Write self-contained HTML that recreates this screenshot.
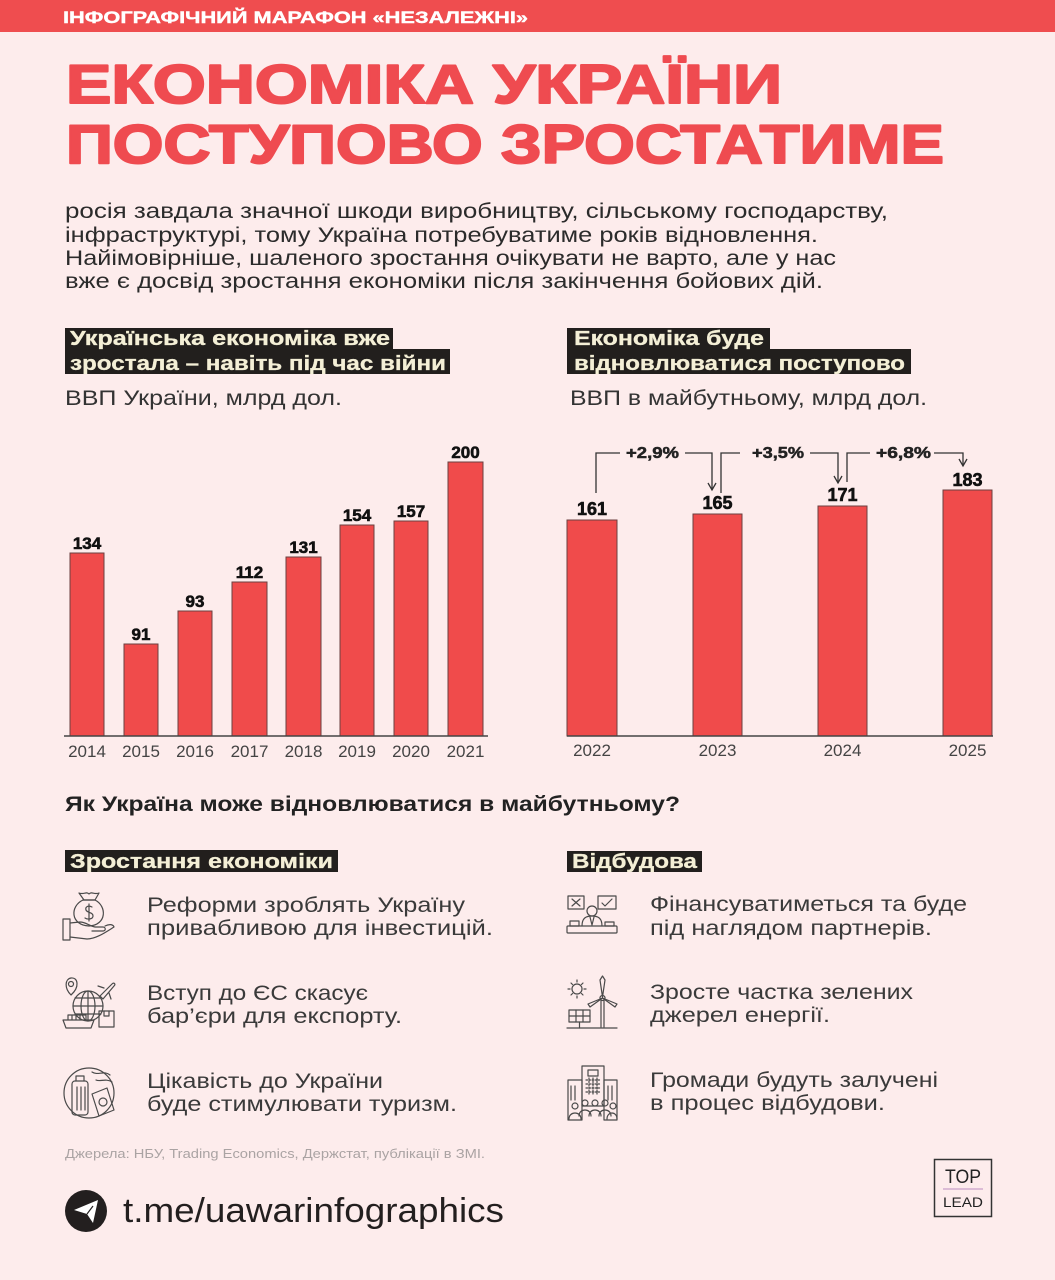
<!DOCTYPE html>
<html>
<head>
<meta charset="utf-8">
<style>
  html,body{margin:0;padding:0;background:#fdecec;}
  svg{display:block;}
  text{font-family:"Liberation Sans","DejaVu Sans",sans-serif;}
</style>
</head>
<body>
<svg width="1055" height="1280" viewBox="0 0 1055 1280" xmlns="http://www.w3.org/2000/svg">
  <rect x="0" y="0" width="1055" height="1280" fill="#fdecec"/>

  <!-- Header bar -->
  <rect x="0" y="0" width="1055" height="32" fill="#ef4d4f"/>
  <text x="63" y="23" font-size="17" font-weight="bold" fill="#ffffff" stroke="#ffffff" stroke-width="0.4" textLength="465" lengthAdjust="spacingAndGlyphs">ІНФОГРАФІЧНИЙ МАРАФОН «НЕЗАЛЕЖНІ»</text>

  <!-- Title -->
  <g fill="#ef4b50" stroke="#ef4b50" stroke-width="2" stroke-linejoin="round">
    <text x="66" y="103" font-size="55" font-weight="bold" textLength="716" lengthAdjust="spacingAndGlyphs">ЕКОНОМІКА УКРАЇНИ</text>
    <text x="66" y="163" font-size="55" font-weight="bold" textLength="878" lengthAdjust="spacingAndGlyphs">ПОСТУПОВО ЗРОСТАТИМЕ</text>
  </g>

  <!-- Body -->
  <g font-size="21" fill="#2b2b2b">
    <text x="65" y="218" textLength="823" lengthAdjust="spacingAndGlyphs">росія завдала значної шкоди виробництву, сільському господарству,</text>
    <text x="65" y="242" textLength="753" lengthAdjust="spacingAndGlyphs">інфраструктурі, тому Україна потребуватиме років відновлення.</text>
    <text x="65" y="265" textLength="771" lengthAdjust="spacingAndGlyphs">Найімовірніше, шаленого зростання очікувати не варто, але у нас</text>
    <text x="65" y="288" textLength="758" lengthAdjust="spacingAndGlyphs">вже є досвід зростання економіки після закінчення бойових дій.</text>
  </g>

  <!-- Subheadings left -->
  <rect x="65" y="328" width="328" height="21" fill="#221f1d"/>
  <rect x="65" y="349" width="385" height="25" fill="#221f1d"/>
  <g font-size="20" font-weight="bold" fill="#f4efd6" stroke="#f4efd6" stroke-width="0.3">
    <text x="70" y="345" textLength="320" lengthAdjust="spacingAndGlyphs">Українська економіка вже</text>
    <text x="70" y="370" textLength="376" lengthAdjust="spacingAndGlyphs">зростала – навіть під час війни</text>
  </g>
  <text x="65" y="405" font-size="21" fill="#333" textLength="277" lengthAdjust="spacingAndGlyphs">ВВП України, млрд дол.</text>

  <!-- Subheadings right -->
  <rect x="567" y="328" width="203" height="21" fill="#221f1d"/>
  <rect x="567" y="349" width="344" height="25" fill="#221f1d"/>
  <g font-size="20" font-weight="bold" fill="#f4efd6" stroke="#f4efd6" stroke-width="0.3">
    <text x="574" y="345" textLength="190" lengthAdjust="spacingAndGlyphs">Економіка буде</text>
    <text x="574" y="370" textLength="331" lengthAdjust="spacingAndGlyphs">відновлюватися поступово</text>
  </g>
  <text x="570" y="405" font-size="21" fill="#333" textLength="357" lengthAdjust="spacingAndGlyphs">ВВП в майбутньому, млрд дол.</text>

  <!-- Left chart -->
  <g fill="#f04b4b" stroke="#6a4040" stroke-width="1">
    <rect x="70" y="553" width="34" height="183"/>
    <rect x="124" y="644" width="34" height="92"/>
    <rect x="178" y="611" width="34" height="125"/>
    <rect x="232" y="582" width="35" height="154"/>
    <rect x="286" y="557" width="35" height="179"/>
    <rect x="340" y="525" width="34" height="211"/>
    <rect x="394" y="521" width="34" height="215"/>
    <rect x="448" y="462" width="35" height="274"/>
  </g>
  <line x1="64" y1="736" x2="488" y2="736" stroke="#444" stroke-width="1.6"/>
  <g font-size="17" font-weight="bold" fill="#111" stroke="#111" stroke-width="0.6" text-anchor="middle">
    <text x="87" y="549">134</text>
    <text x="141" y="640">91</text>
    <text x="195" y="607">93</text>
    <text x="249.5" y="578">112</text>
    <text x="303.5" y="553">131</text>
    <text x="357" y="521">154</text>
    <text x="411" y="517">157</text>
    <text x="465.5" y="458">200</text>
  </g>
  <g font-size="17" fill="#444" text-anchor="middle">
    <text x="87" y="757">2014</text>
    <text x="141" y="757">2015</text>
    <text x="195" y="757">2016</text>
    <text x="249.5" y="757">2017</text>
    <text x="303.5" y="757">2018</text>
    <text x="357" y="757">2019</text>
    <text x="411" y="757">2020</text>
    <text x="465.5" y="757">2021</text>
  </g>

  <!-- Right chart -->
  <g fill="#f04b4b" stroke="#6a4040" stroke-width="1">
    <rect x="567" y="520" width="50" height="216"/>
    <rect x="693" y="514" width="49" height="222"/>
    <rect x="818" y="506" width="49" height="230"/>
    <rect x="943" y="490" width="49" height="246"/>
  </g>
  <line x1="567" y1="736" x2="993" y2="736" stroke="#444" stroke-width="1.6"/>
  <g font-size="18" font-weight="bold" fill="#111" stroke="#111" stroke-width="0.6" text-anchor="middle">
    <text x="592" y="515">161</text>
    <text x="717.5" y="509">165</text>
    <text x="842.5" y="501">171</text>
    <text x="967.5" y="486">183</text>
  </g>
  <g font-size="17" fill="#444" text-anchor="middle">
    <text x="592" y="756">2022</text>
    <text x="717.5" y="756">2023</text>
    <text x="842.5" y="756">2024</text>
    <text x="967.5" y="756">2025</text>
  </g>

  <!-- Annotations -->
  <g fill="none" stroke="#333" stroke-width="1.3">
    <polyline points="596,493 596,453 620,453"/>
    <polyline points="685,453 712,453 712,490"/>
    <polyline points="708,483 712,490 716,483"/>
    <polyline points="721,493 721,453 740,453"/>
    <polyline points="810,453 838,453 838,483"/>
    <polyline points="834,476 838,483 842,476"/>
    <polyline points="847,482 847,453 870,453"/>
    <polyline points="934,453 963,453 963,466"/>
    <polyline points="959,459 963,466 967,459"/>
  </g>
  <g font-size="16" font-weight="bold" fill="#222" stroke="#222" stroke-width="0.5">
    <text x="626" y="458" textLength="53" lengthAdjust="spacingAndGlyphs">+2,9%</text>
    <text x="752" y="458" textLength="52" lengthAdjust="spacingAndGlyphs">+3,5%</text>
    <text x="876" y="458" textLength="55" lengthAdjust="spacingAndGlyphs">+6,8%</text>
  </g>

  <!-- Question -->
  <text x="65" y="811" font-size="21" font-weight="bold" fill="#222" textLength="615" lengthAdjust="spacingAndGlyphs">Як Україна може відновлюватися в майбутньому?</text>

  <rect x="65" y="850" width="273" height="22" fill="#221f1d"/>
  <text x="70" y="868" font-size="20" font-weight="bold" fill="#f4efd6" stroke="#f4efd6" stroke-width="0.3" textLength="263" lengthAdjust="spacingAndGlyphs">Зростання економіки</text>
  <rect x="567" y="851" width="135" height="21" fill="#221f1d"/>
  <text x="572" y="868" font-size="20" font-weight="bold" fill="#f4efd6" stroke="#f4efd6" stroke-width="0.3" textLength="125" lengthAdjust="spacingAndGlyphs">Відбудова</text>

  <!-- Items text -->
  <g font-size="21" fill="#3a3a3a">
    <text x="147" y="912" textLength="318" lengthAdjust="spacingAndGlyphs">Реформи зроблять Україну</text>
    <text x="147" y="935" textLength="346" lengthAdjust="spacingAndGlyphs">привабливою для інвестицій.</text>
    <text x="147" y="1000" textLength="221" lengthAdjust="spacingAndGlyphs">Вступ до ЄС скасує</text>
    <text x="147" y="1023" textLength="255" lengthAdjust="spacingAndGlyphs">бар’єри для експорту.</text>
    <text x="147" y="1088" textLength="236" lengthAdjust="spacingAndGlyphs">Цікавість до України</text>
    <text x="147" y="1111" textLength="310" lengthAdjust="spacingAndGlyphs">буде стимулювати туризм.</text>

    <text x="650" y="911" textLength="317" lengthAdjust="spacingAndGlyphs">Фінансуватиметься та буде</text>
    <text x="650" y="935" textLength="282" lengthAdjust="spacingAndGlyphs">під наглядом партнерів.</text>
    <text x="650" y="999" textLength="263" lengthAdjust="spacingAndGlyphs">Зросте частка зелених</text>
    <text x="650" y="1022" textLength="180" lengthAdjust="spacingAndGlyphs">джерел енергії.</text>
    <text x="650" y="1087" textLength="288" lengthAdjust="spacingAndGlyphs">Громади будуть залучені</text>
    <text x="650" y="1110" textLength="235" lengthAdjust="spacingAndGlyphs">в процес відбудови.</text>
  </g>

  <!-- Icons -->
  <g fill="none" stroke="#4a4a4a" stroke-width="1.2" stroke-linejoin="round" stroke-linecap="round">
    <!-- L1 money bag in hand -->
    <path d="M83,900 C70,906 70,925 89,926 C107,925 107,906 95,900 Z"/>
    <path d="M83,900 L95,900 M84,900 L79,893 C84,895 86,891 89,894 C92,891 94,895 99,893 L95,900"/>
    <path d="M92,907 C88,905 85,907 86,910 C87,913 93,912 93,916 C93,919 88,920 85,918 M89,904 L89,921"/>
    <rect x="63" y="919" width="7" height="21"/>
    <path d="M70,923 L80,922 C86,922 89,926 95,927 L103,927 C106,927 106,931 103,931 L92,931"/>
    <path d="M70,937 L87,939 C96,939 106,932 114,927 C113,924 109,924 105,926"/>

    <!-- L2 globe, pin, plane, ship, box -->
    <circle cx="88" cy="1006" r="15"/>
    <ellipse cx="88" cy="1006" rx="7" ry="15"/>
    <path d="M73,1006 L103,1006 M75,998 L101,998 M75,1014 L101,1014 M88,991 L88,1021"/>
    <path d="M71,995 C64,988 65,979 71,978 C78,977 80,987 71,995 Z"/>
    <circle cx="71" cy="984" r="2.5"/>
    <path d="M100,996 L112,984 C114,982 116,984 114,986 L103,999 Z M104,988 L98,986 M109,993 L111,999"/>
    <rect x="99" y="1011" width="15" height="16"/>
    <path d="M104,1011 L104,1016 L109,1016 L109,1011"/>
    <path d="M63,1020 L94,1020 L91,1028 L66,1028 Z M68,1020 L68,1015 L86,1015 L86,1020 M72,1015 L72,1020 M76,1015 L76,1020 M80,1015 L80,1020"/>

    <!-- L3 travel circle -->
    <circle cx="89" cy="1093" r="25"/>
    <rect x="72" y="1081" width="16" height="34" rx="3"/>
    <path d="M76,1081 L76,1076 L84,1076 L84,1081 M77,1087 L77,1110 M81,1087 L81,1110 M85,1087 L85,1110"/>
    <path d="M92,1094 L107,1088 L114,1110 L99,1116 Z"/>
    <circle cx="103" cy="1102" r="4"/>
    <path d="M92,1072 C98,1076 104,1070 110,1075 M96,1080 C100,1082 106,1078 112,1082"/>

    <!-- R1 person at desk with boards -->
    <rect x="568" y="896" width="16" height="13"/>
    <path d="M572,899 L580,906 M580,899 L572,906"/>
    <rect x="598" y="896" width="18" height="13"/>
    <path d="M602,903 L605,906 L612,899"/>
    <circle cx="592" cy="911" r="5"/>
    <path d="M582,926 C582,918 586,916 592,916 C598,916 602,918 602,926"/>
    <path d="M590,917 L592,925 L594,917"/>
    <rect x="567" y="926" width="50" height="7" rx="1"/>
    <rect x="570" y="921" width="9" height="5"/>
    <rect x="605" y="922" width="9" height="4"/>

    <!-- R2 sun, turbine, panel -->
    <circle cx="577" cy="989" r="5"/>
    <path d="M577,980 L577,982 M577,996 L577,998 M568,989 L570,989 M584,989 L586,989 M571,983 L572.5,984.5 M581.5,993.5 L583,995 M583,983 L581.5,984.5 M572.5,993.5 L571,995"/>
    <path d="M601,1000 L601,1027 M604,1000 L604,1027"/>
    <path d="M602.5,997 L600,980 L602.5,976 L605,980 Z"/>
    <path d="M602.5,998 L588,1004 L590,1007 Z"/>
    <path d="M602.5,998 L617,1004 L615,1007 Z"/>
    <circle cx="602.5" cy="998" r="2.5"/>
    <rect x="569" y="1010" width="21" height="12"/>
    <path d="M569,1016 L590,1016 M576,1010 L576,1022 M583,1010 L583,1022 M579.5,1022 L579.5,1028"/>
    <path d="M567,1028 L617,1028"/>

    <!-- R3 building with people -->
    <rect x="582" y="1066" width="22" height="40"/>
    <rect x="588" y="1070" width="10" height="6"/>
    <path d="M586,1080 L600,1080 M586,1084 L600,1084 M586,1088 L600,1088 M586,1092 L600,1092 M589,1078 L589,1094 M593,1078 L593,1094 M597,1078 L597,1094" stroke-dasharray="1.5 1.5"/>
    <rect x="568" y="1080" width="14" height="40"/>
    <rect x="604" y="1080" width="13" height="40"/>
    <path d="M571,1086 L571,1100 M575,1086 L575,1100 M608,1086 L608,1100 M612,1086 L612,1100"/>
    <circle cx="575" cy="1106" r="3"/><circle cx="585" cy="1103" r="3"/><circle cx="595" cy="1103" r="3"/><circle cx="605" cy="1103" r="3"/><circle cx="613" cy="1106" r="3"/>
    <path d="M569,1119 C569,1111 581,1111 581,1119 M579,1116 C579,1108 591,1108 591,1116 M589,1116 C589,1108 601,1108 601,1116 M599,1116 C599,1108 611,1108 611,1116 M607,1119 C607,1111 617,1111 617,1119"/>
  </g>

  <!-- Sources -->
  <text x="65" y="1158" font-size="13" fill="#aaa3a3" textLength="420" lengthAdjust="spacingAndGlyphs">Джерела: НБУ, Trading Economics, Держстат, публікації в ЗМІ.</text>

  <!-- Telegram -->
  <circle cx="86" cy="1211" r="21" fill="#231f1f"/>
  <path d="M74,1210 L98,1200 L93,1223 L87,1214 Z" fill="#ffffff"/>
  <path d="M87,1214 L93,1206" stroke="#231f1f" stroke-width="1.2"/>
  <text x="123" y="1222" font-size="34" fill="#231f1f" textLength="381" lengthAdjust="spacingAndGlyphs">t.me/uawarinfographics</text>

  <!-- TOP LEAD -->
  <rect x="934.5" y="1159.5" width="57" height="57" fill="none" stroke="#333" stroke-width="1.5"/>
  <text x="963" y="1183" font-size="19" fill="#222" text-anchor="middle" textLength="36" lengthAdjust="spacingAndGlyphs">TOP</text>
  <line x1="943" y1="1189" x2="983" y2="1189" stroke="#c8a0c8" stroke-width="1.2"/>
  <text x="963" y="1207" font-size="14" fill="#222" text-anchor="middle" textLength="40" lengthAdjust="spacingAndGlyphs">LEAD</text>
</svg>
</body>
</html>
